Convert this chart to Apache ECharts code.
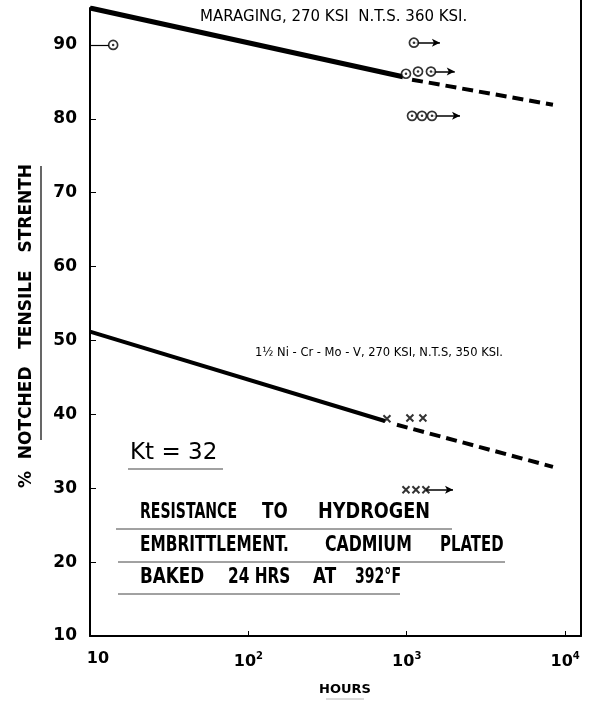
<!DOCTYPE html>
<html>
<head>
<meta charset="utf-8">
<script src="https://cdn.jsdelivr.net/npm/echarts@6/dist/echarts.min.js"></script>
<style>
  html, body { margin: 0; padding: 0; background: #fff; }
  #chart { width: 608px; height: 705px; }
</style>
</head>
<body>
<div id="chart"></div>
<script>
// ---- data (hours, % notched tensile strength) ----
const maragingSolid  = [[10, 95.0], [946, 85.7]];
const maragingDashed = [[1080, 85.3], [8380, 81.9]];
const niSolid        = [[10, 51.2], [728, 39.1]];
const niDashed       = [[867, 38.6], [8380, 32.9]];

const maragingPoints = [[14.0, 90.0], [1110, 90.3], [989, 86.1], [1178, 86.4], [1422, 86.4],
                        [1080, 80.4], [1248, 80.4], [1443, 80.4]];
const niPoints       = [[750, 39.4], [1047, 39.5], [1265, 39.5], [989, 29.8], [1143, 29.8], [1321, 29.8]];

// run-outs: [from hours, to hours, value]
const runouts = [[1110, 1620, 90.3], [1422, 2010, 86.4], [1443, 2170, 80.4], [1321, 1960, 29.8]];
const leaders = [[10, 13.2, 90]];

const xTickValues = [10, 100, 1000, 10000];
const yTickValues = [10, 20, 30, 40, 50, 60, 70, 80, 90];

const chart = echarts.init(document.getElementById('chart'), null, { renderer: 'canvas' });
const FONT = 'DejaVu Sans';

function lineSeries(data, width, dashed) {
  return {
    type: 'line', data: data, symbol: 'none', silent: true, animation: false,
    lineStyle: { color: '#000', width: width, type: dashed ? [11, 6] : 'solid', cap: 'butt' }
  };
}

function boxText(str, x, y, sx) {
  return { type: 'text', x: x, y: y, scaleX: sx, scaleY: 1, silent: true,
    style: { text: str, fill: '#000', font: 'bold 21px ' + FONT, textAlign: 'left', textVerticalAlign: 'middle' } };
}
function underline(x1, x2, y, w, c) {
  return { type: 'line', silent: true, shape: { x1: x1, y1: y, x2: x2, y2: y },
    style: { stroke: c || '#444', lineWidth: w || 1 } };
}

const option = {
  backgroundColor: '#fff',
  animation: false,
  grid: { left: 90, right: 27, top: 8, bottom: 69 },
  xAxis: {
    type: 'log', logBase: 10, min: 10, max: 12600,
    axisLine: { show: true, lineStyle: { color: '#000', width: 2 } },
    axisTick: { show: true, inside: true, length: 5, lineStyle: { color: '#000', width: 1 } },
    splitLine: { show: false },
    axisLabel: {
      margin: 15, color: '#000', fontFamily: FONT, fontWeight: 'bold', fontSize: 16,
      showMaxLabel: false,
      formatter: function (v) {
        const e = Math.round(Math.log10(v));
        if (Math.abs(Math.log10(v) - e) > 1e-6 || xTickValues.indexOf(Math.pow(10, e)) < 0) return '';
        return e === 1 ? '{f|10}' : '10{s|' + e + '}';
      },
      rich: {
        s: { fontSize: 10, fontWeight: 'bold', fontFamily: FONT, color: '#000', padding: [0, 0, 11, 0] },
        f: { fontSize: 16, fontWeight: 'bold', fontFamily: FONT, color: '#000', padding: [0, 0, 0, 16] }
      }
    }
  },
  yAxis: [{
    type: 'value', min: 10, max: 95, interval: 10,
    axisLine: { show: true, lineStyle: { color: '#000', width: 2 } },
    axisTick: { show: true, inside: true, length: 6, lineStyle: { color: '#000', width: 1 } },
    splitLine: { show: false },
    axisLabel: {
      margin: 13, color: '#000', fontFamily: FONT, fontWeight: 'bold', fontSize: 17,
      formatter: function (v) { return yTickValues.indexOf(v) >= 0 ? String(v) : ''; }
    }
  }, {
    type: 'value', min: 10, max: 95, position: 'right',
    axisLine: { show: true, lineStyle: { color: '#000', width: 2 } },
    axisTick: { show: false }, axisLabel: { show: false }, splitLine: { show: false }
  }],
  series: [
    lineSeries(maragingSolid, 5, false),
    lineSeries(maragingDashed, 4, true),
    lineSeries(niSolid, 4, false),
    lineSeries(niDashed, 4, true),
    {
      type: 'scatter', data: [], silent: true,
      markLine: {
        silent: true, animation: false, symbol: ['none', 'arrow'], symbolSize: [6, 8],
        label: { show: false },
        lineStyle: { color: '#000', width: 1.5, type: 'solid' },
        data: runouts.map(r => [{ coord: [r[0], r[2]] }, { coord: [r[1], r[2]] }])
      }
    },
    {
      type: 'scatter', data: [], silent: true,
      markLine: {
        silent: true, animation: false, symbol: ['none', 'none'],
        label: { show: false },
        lineStyle: { color: '#000', width: 1.2, type: 'solid' },
        data: leaders.map(r => [{ coord: [r[0], r[2]] }, { coord: [r[1], r[2]] }])
      }
    },
    {
      type: 'scatter', data: maragingPoints, symbol: 'circle', symbolSize: 9, silent: true,
      itemStyle: { color: '#fff', borderColor: '#000', borderWidth: 1.7 }, z: 5
    },
    {
      type: 'scatter', data: maragingPoints, symbol: 'circle', symbolSize: 2.5, silent: true,
      itemStyle: { color: '#000' }, z: 6
    },
    {
      type: 'scatter', data: niPoints, symbol: 'path://M0,0L10,10M10,0L0,10', symbolSize: 7, silent: true,
      itemStyle: { color: 'none', borderColor: '#000', borderWidth: 2 }, z: 5
    }
  ],
  graphic: [
    { type: 'line', silent: true, shape: { x1: 581, y1: 0, x2: 581, y2: 9 },
      style: { stroke: '#000', lineWidth: 2 } },
    { type: 'text', x: 200, y: 17, silent: true,
      style: { text: 'MARAGING, 270 KSI  N.T.S. 360 KSI.', fill: '#000', font: '15px ' + FONT,
               textAlign: 'left', textVerticalAlign: 'middle' } },
    { type: 'text', x: 255, y: 353, silent: true,
      style: { text: '1\u00BD Ni - Cr - Mo - V, 270 KSI, N.T.S, 350 KSI.', fill: '#000', font: '11.5px ' + FONT,
               textAlign: 'left', textVerticalAlign: 'middle' } },
    { type: 'text', x: 27, y: 326, rotation: Math.PI / 2, silent: true,
      style: { text: '%  NOTCHED   TENSILE   STRENTH', fill: '#000', font: 'bold 17px ' + FONT,
               textAlign: 'center', textVerticalAlign: 'middle' } },
    { type: 'line', silent: true, shape: { x1: 41, y1: 166, x2: 41, y2: 440 },
      style: { stroke: '#000', lineWidth: 1.2 } },
    { type: 'text', x: 130, y: 453, silent: true,
      style: { text: 'Kt = 32', fill: '#000', font: '23px ' + FONT, textAlign: 'left', textVerticalAlign: 'middle' } },
    underline(128, 223, 469, 1.2),
    boxText('RESISTANCE', 140, 513, 0.67), boxText('TO', 262, 513, 0.8), boxText('HYDROGEN', 318, 513, 0.84),
    underline(116, 452, 529),
    boxText('EMBRITTLEMENT.', 140, 546, 0.73), boxText('CADMIUM', 325, 546, 0.75), boxText('PLATED', 440, 546, 0.71),
    underline(118, 505, 562),
    boxText('BAKED', 140, 578, 0.8), boxText('24 HRS', 228, 578, 0.73), boxText('AT', 313, 578, 0.8),
    boxText('392\u00B0F', 355, 578, 0.67),
    underline(118, 400, 594),
    { type: 'text', x: 345, y: 690, silent: true,
      style: { text: 'HOURS', fill: '#000', font: 'bold 13px ' + FONT, textAlign: 'center', textVerticalAlign: 'middle' } },
    underline(326, 364, 699, 0.6, '#888')
  ]
};
chart.setOption(option);
</script>
</body>
</html>
